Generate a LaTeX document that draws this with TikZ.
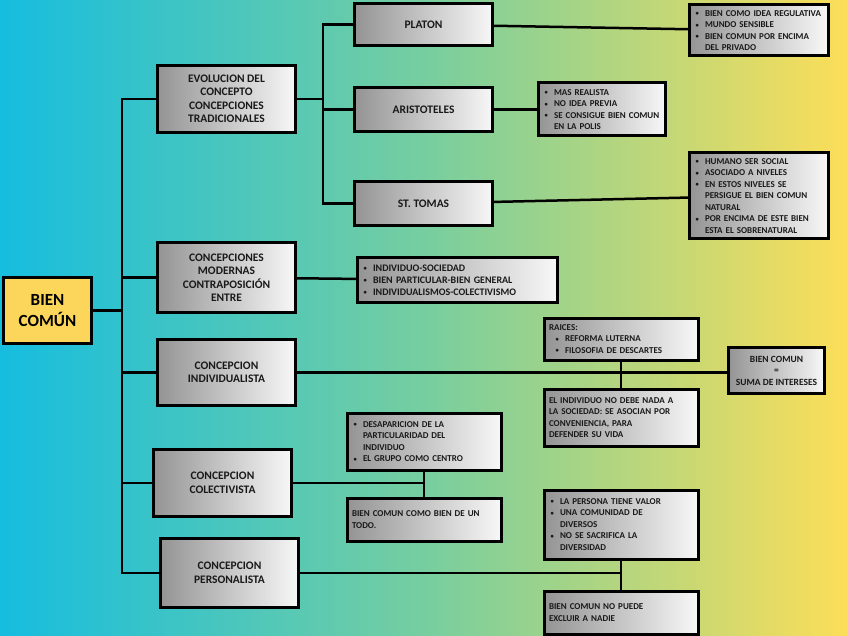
\documentclass[tikz,border=0pt]{standalone}
\usepackage{fontspec}
\setmainfont{Carlito}
\setlength{\parindent}{0pt}

\definecolor{bgleft}{RGB}{22,189,223}
\definecolor{bgmid}{RGB}{118,206,160}
\definecolor{bgright}{RGB}{252,222,88}
\definecolor{bienyellow}{RGB}{252,214,90}

\newcommand{\bulitem}{\makebox[11pt][l]{\hspace{1.5pt}\raisebox{0.6pt}{\fontsize{6.5}{6.5}\selectfont\textbullet}}}
\newcommand{\bulcont}{\hspace*{11pt}}

\begin{document}
\begin{tikzpicture}[x=1pt,y=-1pt,
  topic/.style={draw=black, line width=3pt, left color=black!42, right color=black!3,
    minimum width=138pt, align=center, text=black!90,
    font=\fontsize{11.5}{13.5}\selectfont\bfseries},
  leaf/.style={draw=black, line width=3pt, left color=black!42, right color=black!3,
    anchor=north west, align=left, inner xsep=5pt, inner ysep=2pt, text=black!90,
    font=\fontsize{9}{11.5}\selectfont\bfseries},
  link/.style={line width=2.5pt, line cap=rect}]
  \useasboundingbox (0,0) rectangle (848,636);
  \fill[left color=bgleft, right color=bgright, middle color=bgmid] (0,0) rectangle (848,636);

  % root and main branches
  \node[draw, line width=3pt, fill=bienyellow, minimum width=88pt, minimum height=66pt,
    align=center, font=\fontsize{17}{21}\selectfont\bfseries] (bien) at (47.5,310.5) {BIEN\\COMÚN};
  \node[topic, minimum height=67pt] (evol) at (226.5,99) {EVOLUCION DEL\\CONCEPTO\\CONCEPCIONES\\TRADICIONALES};
  \node[topic, minimum height=70pt] (moder) at (226.5,277.5) {CONCEPCIONES\\MODERNAS\\CONTRAPOSICIÓN\\ENTRE};
  \node[topic, minimum height=66pt] (indiv) at (226.5,372.5) {CONCEPCION\\INDIVIDUALISTA};
  \node[topic, minimum height=67pt] (colec) at (222.5,483) {CONCEPCION\\COLECTIVISTA};
  \node[topic, minimum height=69pt] (pers) at (229.5,573) {CONCEPCION\\PERSONALISTA};

  % tradicionales
  \node[topic, minimum height=42pt] (platon) at (423.5,24.5) {PLATON};
  \node[topic, minimum height=44pt] (arist) at (423.5,109.5) {ARISTOTELES};
  \node[topic, minimum height=44pt] (tomas) at (423.5,203.5) {ST. TOMAS};
  \node[leaf, text width=129pt, minimum height=51pt] (platonL) at (687.5,3.5)
    {\bulitem BIEN COMO IDEA REGULATIVA\\\bulitem MUNDO SENSIBLE\\\bulitem BIEN COMUN POR ENCIMA\\\bulcont DEL PRIVADO};
  \node[leaf, text width=117pt, minimum height=53pt] (aristL) at (536.5,81.5)
    {\bulitem MAS REALISTA\\\bulitem NO IDEA PREVIA\\\bulitem SE CONSIGUE BIEN COMUN\\\bulcont EN LA POLIS};
  \node[leaf, text width=129pt, minimum height=86pt] (tomasL) at (687.5,151.5)
    {\bulitem HUMANO SER SOCIAL\\\bulitem ASOCIADO A NIVELES\\\bulitem EN ESTOS NIVELES SE\\\bulcont PERSIGUE EL BIEN COMUN\\\bulcont NATURAL\\\bulitem POR ENCIMA DE ESTE BIEN\\\bulcont ESTA EL SOBRENATURAL};

  % modernas
  \node[leaf, text width=190pt, minimum height=44pt, font=\fontsize{10}{12}\selectfont\bfseries] (moderL) at (355.5,256.5)
    {\bulitem INDIVIDUO-SOCIEDAD\\\bulitem BIEN PARTICULAR-BIEN GENERAL\\\bulitem INDIVIDUALISMOS-COLECTIVISMO};

  % individualista
  \node[leaf, text width=144pt, minimum height=42pt] (raices) at (542.5,316.5)
    {RAICES:\\\hspace*{5pt}\bulitem REFORMA LUTERNA\\\hspace*{5pt}\bulitem FILOSOFIA DE DESCARTES};
  \node[leaf, text width=144pt, minimum height=57pt] (individuo) at (542.5,387.5)
    {EL INDIVIDUO NO DEBE NADA A\\LA SOCIEDAD: SE ASOCIAN POR\\CONVENIENCIA, PARA\\DEFENDER SU VIDA};
  \node[leaf, anchor=center, align=center, minimum width=96pt, minimum height=46pt,
    font=\fontsize{9.5}{11.5}\selectfont\bfseries] (suma) at (776.5,370.5)
    {BIEN COMUN\\=\\SUMA DE INTERESES};

  % colectivista
  \node[leaf, text width=144pt, minimum height=57pt] (desap) at (345.5,411.5)
    {\bulitem DESAPARICION DE LA\\\bulcont PARTICULARIDAD DEL\\\bulcont INDIVIDUO\\\bulitem EL GRUPO COMO CENTRO};
  \node[leaf, text width=144pt, minimum height=43pt] (todo) at (345.5,496.5)
    {BIEN COMUN COMO BIEN DE UN\\TODO.};

  % personalista
  \node[leaf, text width=144pt, minimum height=69pt] (persona) at (542.5,488.5)
    {\bulitem LA PERSONA TIENE VALOR\\\bulitem UNA COMUNIDAD DE\\\bulcont DIVERSOS\\\bulitem NO SE SACRIFICA LA\\\bulcont DIVERSIDAD};
  \node[leaf, text width=144pt, minimum height=43pt] (nadie) at (542.5,589.5)
    {BIEN COMUN NO PUEDE\\EXCLUIR A NADIE};

  % connectors
  \coordinate (trunk) at (122,310.5);
  \coordinate (trunkB) at (323,99);
  \draw[link] (bien) -- (trunk);
  \draw[link] (trunk |- evol) -- (trunk |- pers);
  \foreach \n in {evol,moder,indiv,colec,pers}
    \draw[link] (trunk |- \n) -- (\n);
  \draw[link] (evol) -- (trunkB);
  \draw[link] (trunkB |- platon) -- (trunkB |- tomas);
  \foreach \n in {platon,arist,tomas}
    \draw[link] (trunkB |- \n) -- (\n);
  \draw[link] (platon) -- (platonL);
  \draw[link] (arist) -- (aristL);
  \draw[link] (tomas) -- (tomasL);
  \draw[link] (moder) -- (moderL);
  \draw[link] (indiv.east) -- (indiv.east -| suma.west);
  \draw[link] (raices) -- (individuo);
  \draw[link] (colec) -- (colec -| desap);
  \draw[link] (desap) -- (todo);
  \draw[link] (pers) -- (pers -| persona);
  \draw[link] (persona) -- (nadie);
\end{tikzpicture}
\end{document}
